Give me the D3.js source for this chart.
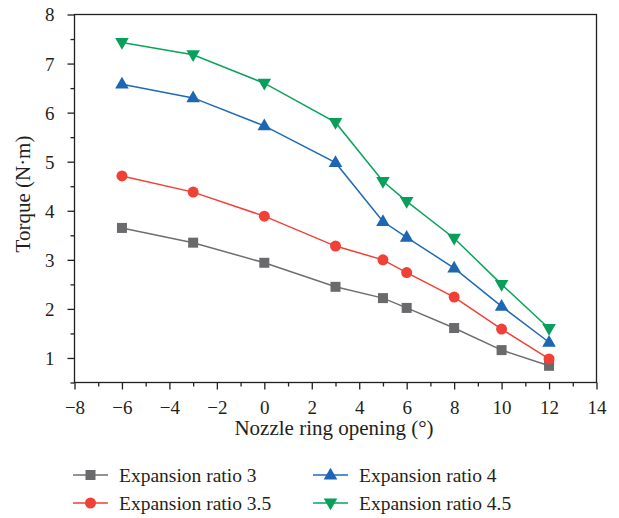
<!DOCTYPE html>
<html>
<head>
<meta charset="utf-8">
<script src="https://cdn.jsdelivr.net/npm/d3@7"></script>
<style>
  body { margin: 0; background: #fff; }
  svg { display: block; }
  text { font-family: "Liberation Serif", "Times New Roman", serif; fill: #231f20; }
</style>
</head>
<body>
<svg id="chart" width="619" height="518"></svg>
<script>
// Nozzle ring opening (°)
const openings = [-6, -3, 0, 3, 5, 6, 8, 10, 12];

// Torque (N·m) for each expansion ratio
const ratio3   = [3.65, 3.35, 2.94, 2.45, 2.22, 2.02, 1.61, 1.16, 0.84];
const ratio3_5 = [4.71, 4.38, 3.89, 3.28, 3.00, 2.74, 2.24, 1.59, 0.98];
const ratio4   = [6.58, 6.30, 5.73, 4.98, 3.78, 3.46, 2.83, 2.05, 1.32];
const ratio4_5 = [7.43, 7.18, 6.60, 5.80, 4.60, 4.19, 3.44, 2.50, 1.60];

const seriesNames = ["Expansion ratio 3", "Expansion ratio 3.5", "Expansion ratio 4", "Expansion ratio 4.5"];
const xTicks = [-8, -6, -4, -2, 0, 2, 4, 6, 8, 10, 12, 14];
const yTicks = [1, 2, 3, 4, 5, 6, 7, 8];

const series = [
  { name: seriesNames[0], values: ratio3,   line: "#6e6e70", fill: "#6a6a6d", shape: "square" },
  { name: seriesNames[1], values: ratio3_5, line: "#ef4136", fill: "#ef4136", shape: "circle" },
  { name: seriesNames[2], values: ratio4,   line: "#1f6ab8", fill: "#1c66b3", shape: "up" },
  { name: seriesNames[3], values: ratio4_5, line: "#0aa35c", fill: "#07a05a", shape: "down" }
];

const svg = d3.select("#chart");
const plotLeft = 74.5, plotRight = 596.5, plotTop = 14.5, plotBottom = 382.5;

const x = d3.scaleLinear().domain([-8, 14]).range([plotLeft, plotRight]);
const y = d3.scaleLinear().domain([0.5, 8]).range([plotBottom, plotTop]);

const axisColor = "#231f20";

// Frame
svg.append("rect")
  .attr("x", plotLeft).attr("y", plotTop)
  .attr("width", plotRight - plotLeft).attr("height", plotBottom - plotTop)
  .attr("fill", "none").attr("stroke", axisColor).attr("stroke-width", 1.3);

// Bottom axis: major every 2, minor every 1
const xAxis = svg.append("g").attr("transform", `translate(0,${plotBottom})`);
xAxis.call(d3.axisBottom(x).tickValues(d3.range(-8, 15, 1)).tickSize(0).tickFormat(""));
xAxis.select(".domain").remove();
xAxis.selectAll(".tick").each(function(d) {
  const g = d3.select(this);
  const major = xTicks.includes(d);
  g.append("line").attr("y1", 0).attr("y2", major ? 7 : 4)
    .attr("stroke", axisColor).attr("stroke-width", 1.3);
  if (major) {
    g.append("text").attr("y", 31).attr("text-anchor", "middle")
      .attr("font-size", 19)
      .text(d < 0 ? "\u2212" + Math.abs(d) : d);
  }
});

// Left axis: major every 1, minor every 0.5
const yAxis = svg.append("g").attr("transform", `translate(${plotLeft},0)`);
yAxis.call(d3.axisLeft(y).tickValues(d3.range(0.5, 8.01, 0.5)).tickSize(0).tickFormat(""));
yAxis.select(".domain").remove();
yAxis.selectAll(".tick").each(function(d) {
  const g = d3.select(this);
  const major = yTicks.includes(d);
  g.append("line").attr("x1", 0).attr("x2", major ? -7 : -4)
    .attr("stroke", axisColor).attr("stroke-width", 1.3);
  if (major) {
    g.append("text").attr("x", -20).attr("dy", "0.34em").attr("text-anchor", "end")
      .attr("font-size", 19).text(d);
  }
});

// Axis titles
svg.append("text")
  .attr("x", 334).attr("y", 435)
  .attr("text-anchor", "middle").attr("font-size", 21)
  .text("Nozzle ring opening (°)");
svg.append("text")
  .attr("transform", `translate(30,194) rotate(-90)`)
  .attr("text-anchor", "middle").attr("font-size", 21)
  .text("Torque (N·m)");

// Marker drawing
function marker(g, shape, color, cx, cy) {
  if (shape === "square") {
    g.append("rect").attr("x", cx - 5).attr("y", cy - 5).attr("width", 10).attr("height", 10)
      .attr("fill", color);
  } else if (shape === "circle") {
    g.append("circle").attr("cx", cx).attr("cy", cy).attr("r", 5.5).attr("fill", color);
  } else {
    const sym = d3.symbol().type(d3.symbolTriangle).size(80);
    g.append("path").attr("d", sym())
      .attr("transform", `translate(${cx},${cy + (shape === "up" ? 0.5 : -0.5)})${shape === "down" ? " rotate(180)" : ""}`)
      .attr("fill", color);
  }
}

const line = d3.line().x((d, i) => x(openings[i])).y(d => y(d));

series.forEach(s => {
  const g = svg.append("g");
  g.append("path").datum(s.values).attr("d", line)
    .attr("fill", "none").attr("stroke", s.line).attr("stroke-width", 1.5);
  s.values.forEach((v, i) => marker(g, s.shape, s.fill, x(openings[i]), y(v)));
});

// Legend
const legendPos = [
  { lx: 73, ly: 475 }, { lx: 73, ly: 503 },
  { lx: 313, ly: 475 }, { lx: 313, ly: 503 }
];
series.forEach((s, i) => {
  const p = legendPos[i];
  const g = svg.append("g");
  g.append("line").attr("x1", p.lx).attr("x2", p.lx + 35).attr("y1", p.ly).attr("y2", p.ly)
    .attr("stroke", s.line).attr("stroke-width", 1.5);
  marker(g, s.shape, s.fill, p.lx + 17.5, p.ly);
  g.append("text").attr("x", p.lx + 46).attr("y", p.ly).attr("dy", "0.34em")
    .attr("font-size", 19.5).text(s.name);
});
</script>
</body>
</html>
